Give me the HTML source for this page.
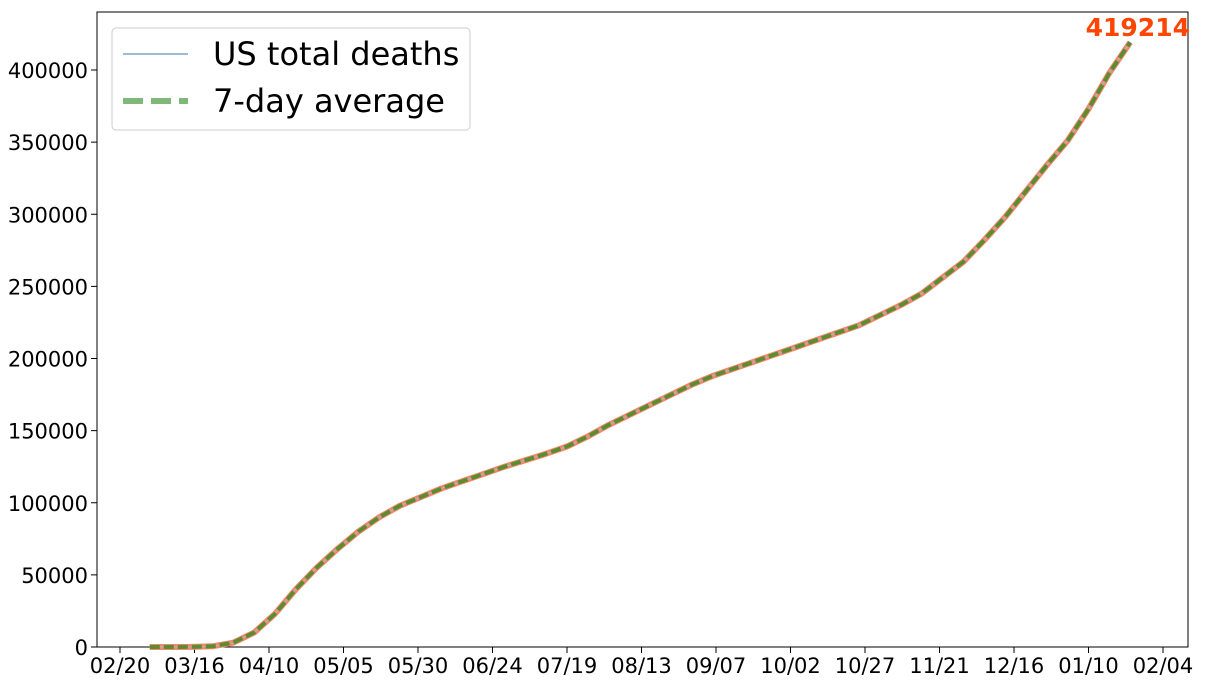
<!DOCTYPE html>
<html><head><meta charset="utf-8"><style>
body{margin:0;background:#fff;font-family:"DejaVu Sans",sans-serif}
svg text{font-family:"DejaVu Sans",sans-serif}
</style></head><body>
<svg id="chart" width="1219" height="683">
<rect x="97" y="12" width="1091" height="635" fill="none" stroke="#000" stroke-width="1"/>
<g id="axes"></g><g id="series"></g>
<text x="1190" y="36" text-anchor="end" font-size="25" font-weight="bold" fill="#ff4500">419214</text>
<g>
<rect x="112" y="28" width="358" height="102" rx="4" fill="#fff" stroke="#ccc"/>
<line x1="123" y1="54" x2="188" y2="54" stroke="#9bbbd9" stroke-width="2"/>
<text x="213" y="65" font-size="32">US total deaths</text>
<line x1="123" y1="101" x2="188" y2="101" stroke="#7fb97a" stroke-width="6" stroke-dasharray="20,8"/>
<text x="213" y="112" font-size="32">7-day average</text>
</g>
</svg>
<script>
const startDay=10;
const stepDays=7;
const totals=[1,17,60,500,3000,10000,23000,40000,55000,68000,80000,90000,98000,104000,110000,115000,120000,125000,129500,134000,139000,146000,154000,161000,168000,175000,182000,188000,193000,198000,203000,208000,213000,218000,223000,230000,237000,245000,256000,267000,282000,298000,316000,334000,351000,373000,398000,419214];
const xTickLabels=["02/20","03/16","04/10","05/05","05/30","06/24","07/19","08/13","09/07","10/02","10/27","11/21","12/16","01/10","02/04"];
const yTicks=[0,50000,100000,150000,200000,250000,300000,350000,400000];
const NS="http://www.w3.org/2000/svg";
const x=d=>120+d*(1043/350);
const y=v=>647-v*(577/400000);
const axes=document.getElementById('axes'),ser=document.getElementById('series');
function mk(tag,attrs,parent){const e=document.createElementNS(NS,tag);for(const k in attrs)e.setAttribute(k,attrs[k]);parent.appendChild(e);return e;}
xTickLabels.forEach((l,i)=>{const px=x(i*25);
 const t=mk('line',{x1:px,x2:px,y1:647,y2:653,stroke:'#000'},axes);
 
 
 const tx=mk('text',{x:px,y:673,'text-anchor':'middle','font-size':21},axes);tx.textContent=l;
 
 });
yTicks.forEach(v=>{const py=y(v);
 const t=mk('line',{x1:91,x2:97,y1:py,y2:py,stroke:'#000'},axes);
 
 
 const tx=mk('text',{x:88,y:py+8,'text-anchor':'end','font-size':21},axes);tx.textContent=v;
 
 });
const pts=totals.map((v,i)=>x(startDay+i*stepDays).toFixed(1)+','+y(v).toFixed(1)).join(' ');
const a=mk('polyline',{points:pts,fill:'none',stroke:'#f4876a',"stroke-width":6,"stroke-linejoin":'round'},ser);


const b=mk('polyline',{points:pts,fill:'none',stroke:'#9bbbd9',"stroke-width":1},ser);


const c=mk('polyline',{points:pts,fill:'none',stroke:'#5b8c2f',"stroke-width":4,"stroke-dasharray":'10,4'},ser);


</script>
</body></html>
